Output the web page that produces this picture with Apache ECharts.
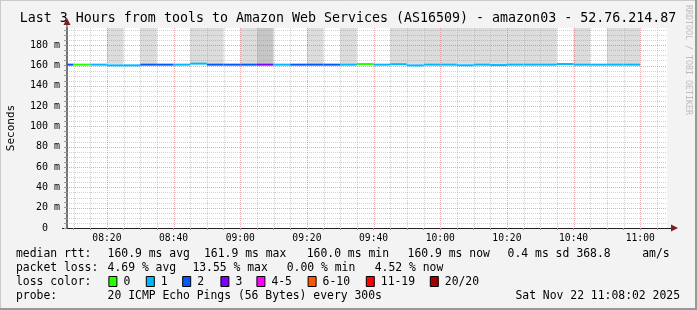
<!DOCTYPE html>
<html><head><meta charset="utf-8">
<script src="https://cdn.jsdelivr.net/npm/echarts@6/dist/echarts.min.js"></script>
<style>html,body{margin:0;padding:0;background:#f3f3f3}#c{width:697px;height:310px}</style>
</head><body><div id="c"></div>
<script>
// ---------------- data ----------------
const titleText = 'Last 3 Hours from tools to Amazon Web Services (AS16509) - amazon03 - 52.76.214.87';
const yAxisName = 'Seconds';
const sideText = 'RRDTOOL / TOBI OETIKER';
const xMinTime = '08:08:02';
const xMaxTime = '11:08:02';
const stepMinutes = 5;
// end time of each 5-minute RRD step
const intervalEnds = ['08:10','08:15','08:20','08:25','08:30','08:35','08:40','08:45','08:50','08:55',
  '09:00','09:05','09:10','09:15','09:20','09:25','09:30','09:35','09:40','09:45',
  '09:50','09:55','10:00','10:05','10:10','10:15','10:20','10:25','10:30','10:35',
  '10:40','10:45','10:50','10:55','11:00'];
// median rtt in ms
const medianMs = [160.9,160.9,160.9,160.2,160.2,160.9,160.9,160.9,161.9,160.9,
  160.9,160.9,160.9,160.9,160.9,160.9,160.9,160.9,161.5,160.9,
  161.3,160.2,160.9,160.9,160.3,160.9,160.5,160.9,160.9,160.9,
  161.5,160.9,160.9,160.9,160.9];
// lost pings (of 20)
const lossCount = [2,0,1,1,1,2,2,1,1,2,
  2,2,3,1,2,2,2,1,0,1,
  1,1,1,1,1,1,1,1,1,1,
  1,1,1,1,1];
// smoke density above the median (0 none, 1 light, 2 dense)
const smokeLevel = [0,0,0,1,0,1,0,0,1,1,
  0,1,2,0,0,1,0,1,0,0,
  1,1,1,1,1,1,1,1,1,1,
  0,1,0,1,1];
const smokeFloorMs = 161.6;
const yMaxMs = 197;
const xTickLabels = ['08:20','08:40','09:00','09:20','09:40','10:00','10:20','10:40','11:00'];
const yTickLabels = [0,20,40,60,80,100,120,140,160,180];
const lossColorLabels = ['0','1','2','3','4-5','6-10','11-19','20/20'];
const lossColorUpper = [0,1,2,3,5,10,19,20];
const lossColors = ['#26ff00','#00b8ff','#0059ff','#7e00ff','#ff00ff','#ff5500','#ff0000','#a10000'];
const rttLabel = 'median rtt:';
const rttStats = ['160.9 ms avg','161.9 ms max','160.0 ms min','160.9 ms now','0.4 ms sd','368.8','am/s'];
const lossLabel = 'packet loss:';
const lossStats = ['4.69 % avg','13.55 % max','0.00 % min','4.52 % now'];
const colorLabel = 'loss color:';
const probeLabel = 'probe:';
const probeText = '20 ICMP Echo Pings (56 Bytes) every 300s';
const dateText = 'Sat Nov 22 11:08:02 2025';

// ---------------- layout / style ----------------
const FONT = '"DejaVu Sans Mono", monospace';
const G = {left: 67, right: 30, top: 28, bottom: 82};
const W = 697, H = 310;
const smokeColors = ['', '#dcdcdc', '#c6c6c6'];
const minorGrid = 'rgba(140,140,140,0.4)';
const majorGrid = 'rgba(200,70,70,0.45)';

const toMin = s => { const p = s.split(':').map(Number); return p[0]*60 + p[1] + (p[2]||0)/60; };
const pad = n => String(n).padStart(2,'0');
const fmtTime = v => pad(Math.floor(v/60)) + ':' + pad(Math.round(v%60));
const xMin = toMin(xMinTime), xMax = toMin(xMaxTime);
const lossIdx = c => lossColorUpper.findIndex(u => c <= u);

const ends = intervalEnds.map(toMin);
const segData = ends.map((e,i) => [e - stepMinutes, medianMs[i], e, lossIdx(lossCount[i])]);
const smokeData = ends.map((e,i) => [e - stepMinutes, smokeFloorMs, e, smokeLevel[i]]).filter(d => d[3] > 0);

const gridData = [];
for (let t = Math.ceil(xMin/5)*5; t < xMax; t += 5) gridData.push([t, 0, 0, t % 20 === 0 ? 1 : 0]);
for (let v = 5; v < yMaxMs; v += 5) gridData.push([xMin, v, 1, v % 20 === 0 ? 1 : 0]);
const xTicks = []; for (let t = Math.ceil(xMin/5)*5; t < xMax; t += 5) xTicks.push(t);
const yTicks = []; for (let v = 0; v < yMaxMs; v += 5) yTicks.push(v);

function clipRect(r, cs) {
  return echarts.graphic.clipRectByRect(r, {x: cs.x, y: cs.y, width: cs.width, height: cs.height});
}

const chart = echarts.init(document.getElementById('c'), null, {renderer: 'canvas'});

const graphics = [];
const txt = (x, y, text, extra) => graphics.push(Object.assign({
  type: 'text', x, y, silent: true,
  style: Object.assign({text, font: '11.4px ' + FONT, fill: '#000', textAlign: 'left', textVerticalAlign: 'middle'}, extra || {})
}));
// title
graphics.push({type:'text', x: 348, y: 19, silent:true, style:{text: titleText, font: '13.3px ' + FONT, fill:'#000', textAlign:'center', textVerticalAlign:'middle'}});
// y axis name
graphics.push({type:'text', x: 11, y: 128, rotation: Math.PI/2, silent:true, style:{text: yAxisName, font:'11px ' + FONT, fill:'#000', textAlign:'center', textVerticalAlign:'middle'}});
// side text
graphics.push({type:'text', x: 688, y: 60, rotation: -Math.PI/2, silent:true, style:{text: sideText, font:'8.3px ' + FONT, fill:'#bdbdbd', textAlign:'center', textVerticalAlign:'middle'}});
// legend rows
const rowY = [254, 268, 282, 296];
txt(16, rowY[0], rttLabel);
[107.6, 204, 306.7, 407.6, 507.6, 576.4, 642.2].forEach((x,i) => txt(x, rowY[0], rttStats[i]));
txt(16, rowY[1], lossLabel);
[107.6, 192.4, 286.7, 374.7].forEach((x,i) => txt(x, rowY[1], lossStats[i]));
txt(16, rowY[2], colorLabel);
[108.4, 145.8, 182.2, 220.4, 256.4, 307.6, 365.8, 429.8].forEach((x,i) => {
  graphics.push({type:'rect', silent:true, shape:{x: x+0.5, y: rowY[2]-5.5, width: 8, height: 10}, style:{fill: lossColors[i], stroke:'#000', lineWidth:1}});
  txt(x + 15, rowY[2], lossColorLabels[i]);
});
txt(16, rowY[3], probeLabel);
txt(107.6, rowY[3], probeText);
txt(680, rowY[3], dateText, {textAlign: 'right'});
// arrows
const ax = G.left, ay = H - G.bottom;
graphics.push({type:'polygon', silent:true, z: 10, shape:{points:[[ax-3.5, G.top-3],[ax+3.5, G.top-3],[ax, G.top-10]]}, style:{fill:'#7f1f1f'}});
graphics.push({type:'polygon', silent:true, z: 10, shape:{points:[[W-G.right+4, ay-3.5],[W-G.right+4, ay+3.5],[W-G.right+11, ay]]}, style:{fill:'#7f1f1f'}});
graphics.push({type:'line', silent:true, shape:{x1: ax, y1: G.top-3, x2: ax, y2: G.top}, style:{stroke:'#444', lineWidth:1}});
graphics.push({type:'line', silent:true, shape:{x1: W-G.right, y1: ay+0.5, x2: W-G.right+4, y2: ay+0.5}, style:{stroke:'#222', lineWidth:1}});
graphics.push({type:'line', silent:true, shape:{x1: G.left-5, y1: ay+0.5, x2: G.left, y2: ay+0.5}, style:{stroke:'#222', lineWidth:1}});
// frame
graphics.push({type:'line', silent:true, shape:{x1:0, y1:0.5, x2:W, y2:0.5}, style:{stroke:'#cbcbcb', lineWidth:1}});
graphics.push({type:'line', silent:true, shape:{x1:0.5, y1:0, x2:0.5, y2:H}, style:{stroke:'#cbcbcb', lineWidth:1}});
graphics.push({type:'line', silent:true, shape:{x1:0, y1:H-1, x2:W, y2:H-1}, style:{stroke:'#999', lineWidth:2}});
graphics.push({type:'line', silent:true, shape:{x1:W-1, y1:0, x2:W-1, y2:H}, style:{stroke:'#999', lineWidth:2}});

chart.setOption({
  animation: false,
  backgroundColor: '#f3f3f3',
  grid: {left: G.left, right: G.right, top: G.top, bottom: G.bottom, show: true, backgroundColor: '#fff', borderWidth: 0},
  xAxis: {
    type: 'value', min: xMin, max: xMax,
    axisLine: {show: true, lineStyle: {color: '#222', width: 1}},
    axisTick: {show: true, customValues: xTicks, length: 2, lineStyle: {color: '#999'}},
    axisLabel: {customValues: xTickLabels.map(toMin), formatter: v => fmtTime(v), fontFamily: FONT, fontSize: 9.7, color: '#000', margin: 5},
    splitLine: {show: false}
  },
  yAxis: {
    type: 'value', min: 0, max: yMaxMs,
    axisLine: {show: true, lineStyle: {color: '#444', width: 1.5}},
    axisTick: {show: true, customValues: yTicks, length: 3, lineStyle: {color: '#999'}},
    axisLabel: {customValues: yTickLabels, formatter: v => v === 0 ? '0  ' : v + ' m', fontFamily: FONT, fontSize: 10, color: '#000', margin: 7},
    splitLine: {show: false}
  },
  graphic: graphics,
  series: [
    { // smoke
      type: 'custom', z: 1, silent: true, data: smokeData,
      renderItem(params, api) {
        const cs = params.coordSys;
        const p1 = api.coord([api.value(0), api.value(1)]);
        const p2 = api.coord([api.value(2), yMaxMs * 3]);
        const r = clipRect({x: p1[0], y: p2[1], width: p2[0]-p1[0], height: p1[1]-p2[1]}, cs);
        return r && {type: 'rect', shape: r, style: {fill: smokeColors[api.value(3)]}};
      }
    },
    { // grid lines
      type: 'custom', z: 2, silent: true, data: gridData,
      renderItem(params, api) {
        const cs = params.coordSys;
        const kind = api.value(2), major = api.value(3);
        let shape;
        if (kind === 0) {
          const x = Math.round(api.coord([api.value(0), 0])[0]) + 0.5;
          shape = {x1: x, y1: cs.y, x2: x, y2: cs.y + cs.height};
        } else {
          const y = Math.round(api.coord([xMin, api.value(1)])[1]) + 0.5;
          shape = {x1: cs.x, y1: y, x2: cs.x + cs.width, y2: y};
        }
        return {type: 'line', shape, style: {stroke: major ? majorGrid : minorGrid, lineWidth: 1, lineDash: [1, 1]}};
      }
    },
    { // median coloured by loss
      type: 'custom', z: 3, silent: true, data: segData,
      renderItem(params, api) {
        const cs = params.coordSys;
        const p1 = api.coord([api.value(0), api.value(1)]);
        const p2 = api.coord([api.value(2), api.value(1)]);
        const x1 = Math.max(p1[0], cs.x), x2 = Math.min(p2[0], cs.x + cs.width);
        return {type: 'line', shape: {x1, y1: p1[1], x2, y2: p2[1]}, style: {stroke: lossColors[api.value(3)], lineWidth: 2}};
      }
    }
  ]
});
</script>
</body></html>
